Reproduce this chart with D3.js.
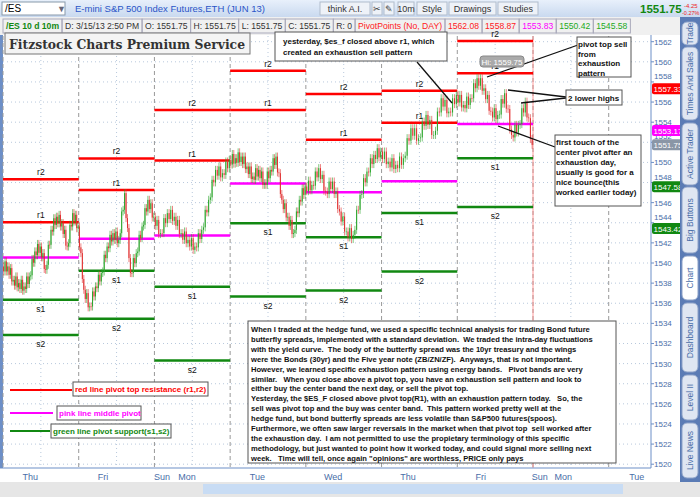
<!DOCTYPE html>
<html><head><meta charset="utf-8">
<script src="https://cdn.jsdelivr.net/npm/d3@7"></script>
<style>body{margin:0;background:#fff}svg{display:block;font-family:"Liberation Sans",Arial,sans-serif}</style>
</head><body><svg id="c" width="700" height="497"></svg>
<script>
const days = ["Thu","Fri","Mon","Tue","Wed","Thu","Fri"];
const r2 = [1548.33,1550.39,1555.22,1559.10,1556.80,1557.13,1562.08];
const r1 = [1544.06,1547.25,1550.18,1555.22,1552.26,1553.95,1558.87];
const pp = [1540.55,1542.41,1542.74,1547.90,1547.03,1548.13,1553.83];
const s1 = [1536.35,1539.24,1537.64,1543.96,1542.56,1544.98,1550.42];
const s2 = [1532.85,1534.45,1530.30,1536.66,1537.26,1539.15,1545.58];
const closes = [
 [1539.66,1538.33,1538.0,1537.67,1538.66,1541.15,1541.64,1539.33,1543.3,1544.6,1543.97,1541.64,1544.96,1543.63],
 [1537.34,1535.68,1537.67,1539.0,1541.64,1542.97,1542.3,1546.95,1539.0,1540.98,1543.63,1546.28,1544.6],
 [1542.97,1544.96,1544.6,1542.97,1542.3,1541.64,1543.3,1546.28,1549.26,1548.93,1550.25],
 [1550.42,1550.58,1549.59,1548.6,1549.26,1547.94,1549.26,1550.58,1546.28,1544.6,1542.97,1546.28,1547.6],
 [1547.77,1549.43,1547.1,1548.1,1545.12,1543.13,1542.8,1546.78,1549.09,1550.75,1551.08],
 [1550.08,1549.76,1550.42,1553.4,1552.4,1554.72,1552.73,1556.38,1555.05,1556.71],
 [1555.71,1556.38,1558.37,1557.37,1555.05,1554.72,1556.88,1552.73,1553.73,1556.04,1551.75]
];
const tickLabels = ["Thu","Fri","Sun","Mon","Tue","Wed","Thu","Fri","Sun","Mon","Tue"];
const tickPos = [0.36,1.32,2.1,2.43,3.36,4.36,5.35,6.31,7.09,7.4,8.37];
const priceTicks = d3.range(1520,1563,2);
const priceTags = [[1557.33,"#ff0000"],[1553.17,"#ff00ff"],[1551.75,"#8a96a6"],[1547.58,"#118811"],[1543.42,"#118811"]];
const infoCells = [["/ES 10 d 10m","#118811",true],["D: 3/15/13 2:50 PM","#333"],["O: 1551.75","#333"],["H: 1551.75","#333"],["L: 1551.75","#333"],["C: 1551.75","#333"],["R: 0","#333"],["PivotPoints (No, DAY)","#ff2020"],["1562.08","#ff2020"],["1558.87","#ff2020"],["1553.83","#ff00ff"],["1550.42","#22aa22"],["1545.58","#22aa22"]];
const bigText = ["When I traded at the hedge fund, we used a specific technical analysis for trading Bond future",
"butterfly spreads, implemented with a standard deviation.  We traded the intra-day fluctuations",
"with the yield curve.  The body of the butterfly spread was the 10yr treasury and the wings",
"were the Bonds (30yr) and the Five year note (ZB/ZN/ZF).  Anyways, that is not important.",
"However, we learned specific exhaustion pattern using energy bands.   Pivot bands are very",
"similar.   When you close above a pivot top, you have an exhaustion sell pattern and look to",
"either buy the center band the next day, or sell the pivot top.",
"Yesterday, the $ES_F closed above pivot top(R1), with an exhaustion pattern today.   So, the",
"sell was pivot top and the buy was center band.  This pattern worked pretty well at the",
"hedge fund, but bond butterfly spreads are less volatile than S&P500 futures(spoos).",
"Furthermore, we often saw larger reversals in the market when that pivot top  sell worked after",
"the exhaustion day.  I am not permitted to use the propietary terminology of this specific",
"methodology, but just wanted to point how it worked today, and could signal more selling next",
"week.   Time will tell, once again \"opinions\" are worthless, PRICE only pays"];

const svg = d3.select("#c");
const x = d3.scaleLinear().domain([0,7]).range([3,533]);
const y = d3.scaleLinear().domain([1520,1562]).range([464.2,41.7]);
const L=3,R=651,T=36,B=468;

const g0 = svg.append("defs").append("linearGradient").attr("id","hg").attr("x1",0).attr("x2",0).attr("y1",0).attr("y2",1);
g0.append("stop").attr("offset",0).attr("stop-color","#e8f0fb");g0.append("stop").attr("offset",1).attr("stop-color","#c9d9ef");
svg.append("rect").attr("width",700).attr("height",17).attr("fill","url(#hg)");
svg.append("rect").attr("x",2).attr("y",2).attr("width",63).attr("height",13).attr("fill","#fff").attr("stroke","#8899aa");
svg.append("text").attr("x",5).attr("y",12).attr("font-size",10).attr("fill","#000").text("/ES");
svg.append("text").attr("x",57).attr("y",12).attr("font-size",9).attr("fill","#667").text("▼");
svg.append("text").attr("x",75).attr("y",12).attr("font-size",9.5).attr("fill","#2a55c8").text("E-mini S&P 500 Index Futures,ETH (JUN 13)");
const btns=[["think A.I.",320,50],["✂",372,10],["✎",384,10],["10m",398,16],["Style",417,30],["Drawings",449,47],["Studies",498,40]];
btns.forEach(b=>{svg.append("rect").attr("x",b[1]).attr("y",2).attr("width",b[2]).attr("height",13).attr("fill","#eef2f8").attr("stroke","#b0bccc");
 svg.append("text").attr("x",b[1]+b[2]/2).attr("y",12).attr("text-anchor","middle").attr("font-size",9).attr("fill","#333").text(b[0]);});
svg.append("text").attr("x",640).attr("y",13).attr("font-size",11.5).attr("font-weight","bold").attr("fill","#118811").text("1551.75");
svg.append("text").attr("x",684).attr("y",8).attr("font-size",6).attr("fill","#e22").text("-4.25");
svg.append("text").attr("x",682).attr("y",15).attr("font-size",5.5).attr("fill","#e22").text("-0.27%");
svg.append("rect").attr("y",17).attr("width",700).attr("height",18).attr("fill","#f0f0f0");
let cx=3;
infoCells.forEach(c=>{const t=svg.append("text").attr("x",cx+3).attr("y",29).attr("font-size",8.6).attr("fill",c[1]).attr("font-weight",c[2]?"bold":"normal").text(c[0]);
 const w=t.node().getComputedTextLength()+6; svg.append("rect").attr("x",cx).attr("y",19).attr("width",w).attr("height",14).attr("fill","none").attr("stroke","#aab");cx+=w;});

svg.append("rect").attr("x",0).attr("y",35).attr("width",R).attr("height",B-35).attr("fill","#fff");
svg.append("line").attr("x1",1.5).attr("x2",1.5).attr("y1",35).attr("y2",B).attr("stroke","#6d8fc7").attr("stroke-width",3);
priceTicks.forEach(p=>svg.append("line").attr("x1",L).attr("x2",R).attr("y1",y(p)).attr("y2",y(p)).attr("stroke","#b8c8dc").attr("stroke-dasharray","1,3"));
d3.range(0,8.5,0.5).forEach(d=>{const full=Number.isInteger(d);
 svg.append("line").attr("x1",x(d)).attr("x2",x(d)).attr("y1",T).attr("y2",B).attr("stroke",full?"#999":"#b8c8dc").attr("stroke-dasharray",full?"4,3":"1,3");});
svg.append("line").attr("x1",x(7)).attr("x2",x(7)).attr("y1",T).attr("y2",B).attr("stroke","#ff8080").attr("stroke-width",0.8);

const lv=[[r2,"#ff0000","r2",-4],[r1,"#ff0000","r1",-4],[pp,"#ff00ff",null,0],[s1,"#118811","s1",12],[s2,"#118811","s2",12]];
lv.forEach(l=>l[0].forEach((v,i)=>{
 svg.append("line").attr("x1",x(i)).attr("x2",x(i+1)).attr("y1",y(v)).attr("y2",y(v)).attr("stroke",l[1]).attr("stroke-width",2.5);
 if(l[2]) svg.append("text").attr("x",(x(i)+x(i+1))/2).attr("y",y(v)+l[3]).attr("text-anchor","middle").attr("font-size",8.5).attr("fill","#111").text(l[2]);}));

let prev=closes[0][0];
closes.forEach((dc,i)=>{const step=(x(i+1)-x(i))/(dc.length);
 dc.forEach((c,j)=>{const xc=x(i)+step*(j+0.5); const o=prev;
  const sub=d3.range(4).map(k=>o+(c-o)*(k+1)/4+(k<3?((k%2)?0.5:-0.5):0));
  sub.forEach((s,k)=>{const so=k?sub[k-1]:o; const xx=xc-step/2+step*(k+0.5)/4; const col=s>=so?"#2aa52a":"#e03030";
   svg.append("line").attr("x1",xx).attr("x2",xx).attr("y1",y(Math.max(s,so)+0.4)).attr("y2",y(Math.min(s,so)-0.4)).attr("stroke",col).attr("stroke-width",0.6);
   svg.append("rect").attr("x",xx-0.5).attr("y",y(Math.max(s,so))).attr("width",1).attr("height",Math.max(0.6,y(Math.min(s,so))-y(Math.max(s,so)))).attr("fill",col);});
  prev=c;});});

svg.append("line").attr("x1",0).attr("x2",R).attr("y1",B).attr("y2",B).attr("stroke","#6d8fc7");
tickLabels.forEach((t,i)=>svg.append("text").attr("x",x(tickPos[i])).attr("y",480).attr("text-anchor","middle").attr("font-size",9).attr("fill","#4a6ea8").text(t));
svg.append("rect").attr("y",482).attr("width",700).attr("height",15).attr("fill","#e6e6e6");
svg.append("rect").attr("x",203).attr("y",484).attr("width",420).attr("height",10).attr("fill","#c8dcf4");

svg.append("rect").attr("x",R).attr("y",35).attr("width",29).attr("height",447).attr("fill","#fff");
svg.append("line").attr("x1",R).attr("x2",R).attr("y1",35).attr("y2",B).attr("stroke","#6d8fc7");
priceTicks.forEach(p=>{svg.append("line").attr("x1",R).attr("x2",R+3).attr("y1",y(p)).attr("y2",y(p)).attr("stroke","#6d8fc7");
 const hid=priceTags.some(t=>Math.abs(y(t[0])-y(p))<8);
 svg.append("text").attr("x",R+3).attr("y",y(p)+(hid?-3:3)).attr("font-size",8).attr("fill","#4a6ea8").text(p);});
priceTags.forEach(t=>{svg.append("rect").attr("x",R+1).attr("y",y(t[0])-5.5).attr("width",30).attr("height",11).attr("rx",2).attr("fill",t[1]);
 svg.append("text").attr("x",R+2.5).attr("y",y(t[0])+3).attr("font-size",8).attr("fill","#fff").text(t[0].toFixed(2));});
svg.append("rect").attr("x",680).attr("y",17).attr("width",20).attr("height",465).attr("fill","#5a7bb5");
const tabs=[["Trade",22,45],["Times And Sales",47,120],["Active Trader",123,185],["Big Buttons",187,253],["Chart",256,300],["Dashboard",303,372],["Level II",375,420],["Live News",423,478]];
tabs.forEach(t=>{svg.append("rect").attr("x",682).attr("y",t[1]).attr("width",16).attr("height",t[2]-t[1]).attr("rx",5).attr("fill",t[0]==="Chart"?"#fff":"#dfe6f2").attr("stroke","#8da2c8");
 svg.append("text").attr("transform",`translate(693,${(t[1]+t[2])/2}) rotate(-90)`).attr("text-anchor","middle").attr("font-size",8.5).attr("fill","#4a6ea8").text(t[0]);});

svg.append("rect").attr("x",5).attr("y",33).attr("width",245).attr("height",21).attr("fill","#f4f4f4").attr("stroke","#777");
svg.append("text").attr("x",9).attr("y",49).attr("font-family","DejaVu Serif,serif").attr("font-weight","bold").attr("font-size",13).attr("textLength",236).attr("lengthAdjust","spacingAndGlyphs").attr("fill","#333").text("Fitzstock Charts Premium Service");

function box(x0,y0,w,h,lines,opt={}){svg.append("rect").attr("x",x0).attr("y",y0).attr("width",w).attr("height",h).attr("fill",opt.fill||"#fff").attr("stroke",opt.stroke||"#555").attr("stroke-width",1);
 lines.forEach((l,i)=>svg.append("text").attr("x",x0+(opt.pad||3)).attr("y",y0+(opt.top||10)+i*(opt.lh||10)).attr("font-size",opt.fs||8).attr("font-weight","bold").attr("fill",opt.color||"#111").style("white-space","pre").text(l));}
function ln(a,b,c,d){svg.append("line").attr("x1",a).attr("y1",b).attr("x2",c).attr("y2",d).attr("stroke","#111").attr("stroke-width",1.3);}
ln(417,62,452,103); ln(578,45,487,77); ln(566,97,508,90); ln(566,98,521,103); ln(555,147,498,126);
box(275,32,172,29,["yesterday, $es_f closed above r1, which","created an exhaustion sell pattern"],{top:12,lh:11,fs:8,pad:8});
box(577,37,54,40,["pivot top sell","from","exhaustion","pattern"],{lh:9.7,pad:1});
box(566,90,56,15,["2 lower highs"],{top:11,pad:2});
box(555,135,86,71,["first touch of the","center pivot after an","exhaustion day,","usually is good for a","nice bounce(this","worked earlier today)"],{top:10,lh:10,pad:1});
svg.append("rect").attr("x",480).attr("y",56).attr("width",44).attr("height",11).attr("rx",3).attr("fill","#aaa").attr("stroke","#888");
svg.append("text").attr("x",502).attr("y",64.5).attr("text-anchor","middle").attr("font-size",8).attr("fill","#fff").text("Hi: 1559.75");
box(248,321,368,142,bigText,{top:11,lh:9.9,fs:7.6,pad:3});

svg.append("line").attr("x1",10).attr("x2",72).attr("y1",390).attr("y2",390).attr("stroke","#ff0000").attr("stroke-width",2);
box(73,382,135,14,["red line pivot top resistance (r1,r2)"],{top:10,fs:8,color:"#ff0000",pad:2});
svg.append("line").attr("x1",10).attr("x2",53).attr("y1",413).attr("y2",413).attr("stroke","#ff00ff").attr("stroke-width",2);
box(57,406,84,14,["pink line middle pivot"],{top:10,fs:8,color:"#ff00ff",pad:2});
svg.append("line").attr("x1",10).attr("x2",50).attr("y1",431).attr("y2",431).attr("stroke","#118811").attr("stroke-width",2);
box(51,424,120,14,["green line pivot support(s1,s2)"],{top:10,fs:8,color:"#118811",pad:2});
</script></body></html>
